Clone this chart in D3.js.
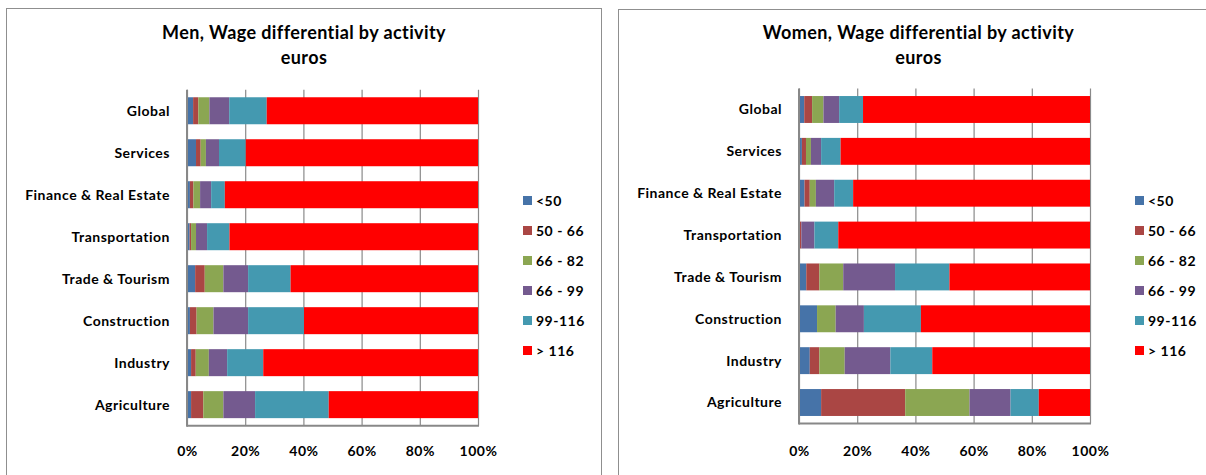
<!DOCTYPE html>
<html>
<head>
<meta charset="utf-8">
<script src="https://cdn.jsdelivr.net/npm/d3@7"></script>
<style>
  body { margin: 0; background: #fff; }
  svg { display: block; font-family: Lato, "Open Sans", sans-serif; }
</style>
</head>
<body>
<script>
// categories, top to bottom
const categories = ["Global", "Services", "Finance & Real Estate", "Transportation",
  "Trade & Tourism", "Construction", "Industry", "Agriculture"];
const bands = ["<50", "50 - 66", "66 - 82", "66 - 99", "99-116", "> 116"];
const bandColors = ["#4673a8", "#aa4644", "#8ba652", "#745a8f", "#4499b0", "#ff0000"];
const xTicks = [0, 20, 40, 60, 80, 100];

// men, % of workers in each wage band
const menLt50   = [2.1, 3.1, 1.0, 0.9, 2.8, 1.0, 1.4, 1.4];
const men50_66  = [1.8, 1.6, 1.2, 0.5, 3.3, 2.3, 1.6, 4.2];
const men66_82  = [3.8, 1.8, 2.3, 1.7, 6.4, 5.8, 4.5, 6.9];
const men66_99  = [6.8, 4.5, 3.8, 3.8, 8.5, 11.9, 6.3, 10.9];
const men99_116 = [12.9, 9.2, 4.7, 7.7, 14.6, 19.2, 12.4, 25.3];
const menGt116  = [72.6, 79.8, 87.0, 85.4, 64.4, 59.8, 73.8, 51.3];

// women
const womenLt50   = [1.8, 1.0, 1.9, 0.3, 2.5, 6.2, 3.7, 7.6];
const women50_66  = [2.7, 1.4, 1.8, 0.5, 4.5, 0.0, 3.3, 28.9];
const women66_82  = [3.9, 1.7, 2.1, 0.0, 8.2, 6.4, 8.7, 22.1];
const women66_99  = [5.4, 3.5, 6.3, 4.5, 17.8, 9.7, 15.7, 14.1];
const women99_116 = [8.2, 6.7, 6.5, 8.2, 18.7, 19.6, 14.4, 9.7];
const womenGt116  = [78.0, 85.7, 81.4, 86.5, 48.3, 58.1, 54.2, 17.6];

const W = 1206, H = 475;
const svg = d3.select("body").append("svg").attr("width", W).attr("height", H);

const buildRows = (series) => categories.map((c, i) => {
  const row = { cat: c };
  bands.forEach((b, j) => { row[b] = series[j][i]; });
  return row;
});

// bold label text, a bit spread like the original
const boldText = (sel, size, spacing) => sel
  .attr("font-size", size).attr("font-weight", "bold").attr("fill", "#000")
  .attr("letter-spacing", spacing)
  .attr("font-family", "Lato, 'Open Sans', sans-serif");

const drawPanel = (cfg) => {
  const g = svg.append("g");
  // panel frame (runs off the bottom/right of the picture)
  g.append("rect")
    .attr("x", cfg.frame[0]).attr("y", cfg.frame[1])
    .attr("width", cfg.frame[2]).attr("height", 600)
    .attr("fill", "none").attr("stroke", "#8f8f8f").attr("stroke-width", 1);

  const cx = cfg.frame[0] + cfg.frame[2] / 2;
  g.append("text").attr("x", cx).attr("y", 39).attr("text-anchor", "middle")
    .call(boldText, 18, 0.4).text(cfg.title);
  g.append("text").attr("x", cx).attr("y", 64).attr("text-anchor", "middle")
    .call(boldText, 18, 0.4).text("euros");

  const x = d3.scaleLinear().domain([0, 100]).range([cfg.left, cfg.right]);
  const y = d3.scaleBand().domain(categories).range([cfg.top, cfg.bottom]).paddingInner(0.357).paddingOuter(0.18);

  // vertical gridlines
  g.append("g")
    .attr("transform", `translate(0,${cfg.top})`)
    .call(d3.axisBottom(x).tickValues(xTicks).tickSize(cfg.bottom - cfg.top).tickFormat(""))
    .call(a => a.select(".domain").remove())
    .call(a => a.selectAll(".tick line").attr("stroke", "#8a8a8a").attr("stroke-width", 1.2));

  const stacked = d3.stack().keys(bands)(buildRows(cfg.series));
  g.append("g").selectAll("g").data(stacked).join("g")
    .attr("fill", (d, i) => bandColors[i])
    .selectAll("rect").data(d => d).join("rect")
    .attr("x", d => x(d[0]))
    .attr("width", d => x(d[1]) - x(d[0]))
    .attr("y", d => y(d.data.cat))
    .attr("height", y.bandwidth());

  // axis lines
  g.append("line").attr("x1", cfg.left).attr("x2", cfg.left)
    .attr("y1", cfg.top).attr("y2", cfg.bottom + 1)
    .attr("stroke", "#888").attr("stroke-width", 2);
  g.append("line").attr("x1", cfg.left).attr("x2", cfg.right + 1)
    .attr("y1", cfg.bottom).attr("y2", cfg.bottom)
    .attr("stroke", "#888").attr("stroke-width", 2);

  // category labels
  g.append("g").selectAll("text").data(categories).join("text")
    .attr("x", cfg.left - 17)
    .attr("y", d => y(d) + y.bandwidth() / 2)
    .attr("dy", "0.35em")
    .attr("text-anchor", "end")
    .call(boldText, 14, 0.5)
    .text(d => d);

  // percent tick labels
  g.append("g")
    .attr("transform", `translate(0,456)`)
    .call(d3.axisBottom(x).tickValues(xTicks).tickSize(0).tickFormat(d => d + "%"))
    .call(a => a.select(".domain").remove())
    .call(a => a.selectAll("text").attr("y", 0).attr("dy", 0).call(boldText, 14, 0.5));

  // legend
  const leg = g.append("g").selectAll("g").data(bands).join("g")
    .attr("transform", (d, i) => `translate(${cfg.legendX},${200.5 + i * 30})`);
  leg.append("rect").attr("x", 0).attr("y", -4.5).attr("width", 9).attr("height", 9)
    .attr("fill", (d, i) => bandColors[i]);
  leg.append("text").attr("x", 13).attr("dy", "0.36em")
    .call(boldText, 14, 0.5)
    .text(d => d);
};

drawPanel({
  title: "Men, Wage differential by activity",
  frame: [6.5, 8.5, 595],
  left: 187, right: 478, top: 89.7, bottom: 425.7,
  legendX: 523,
  series: [menLt50, men50_66, men66_82, men66_99, men99_116, menGt116]
});

drawPanel({
  title: "Women, Wage differential by activity",
  frame: [618.5, 9.5, 600],
  left: 799, right: 1090, top: 88.5, bottom: 423.5,
  legendX: 1135,
  series: [womenLt50, women50_66, women66_82, women66_99, women99_116, womenGt116]
});
</script>
</body>
</html>
